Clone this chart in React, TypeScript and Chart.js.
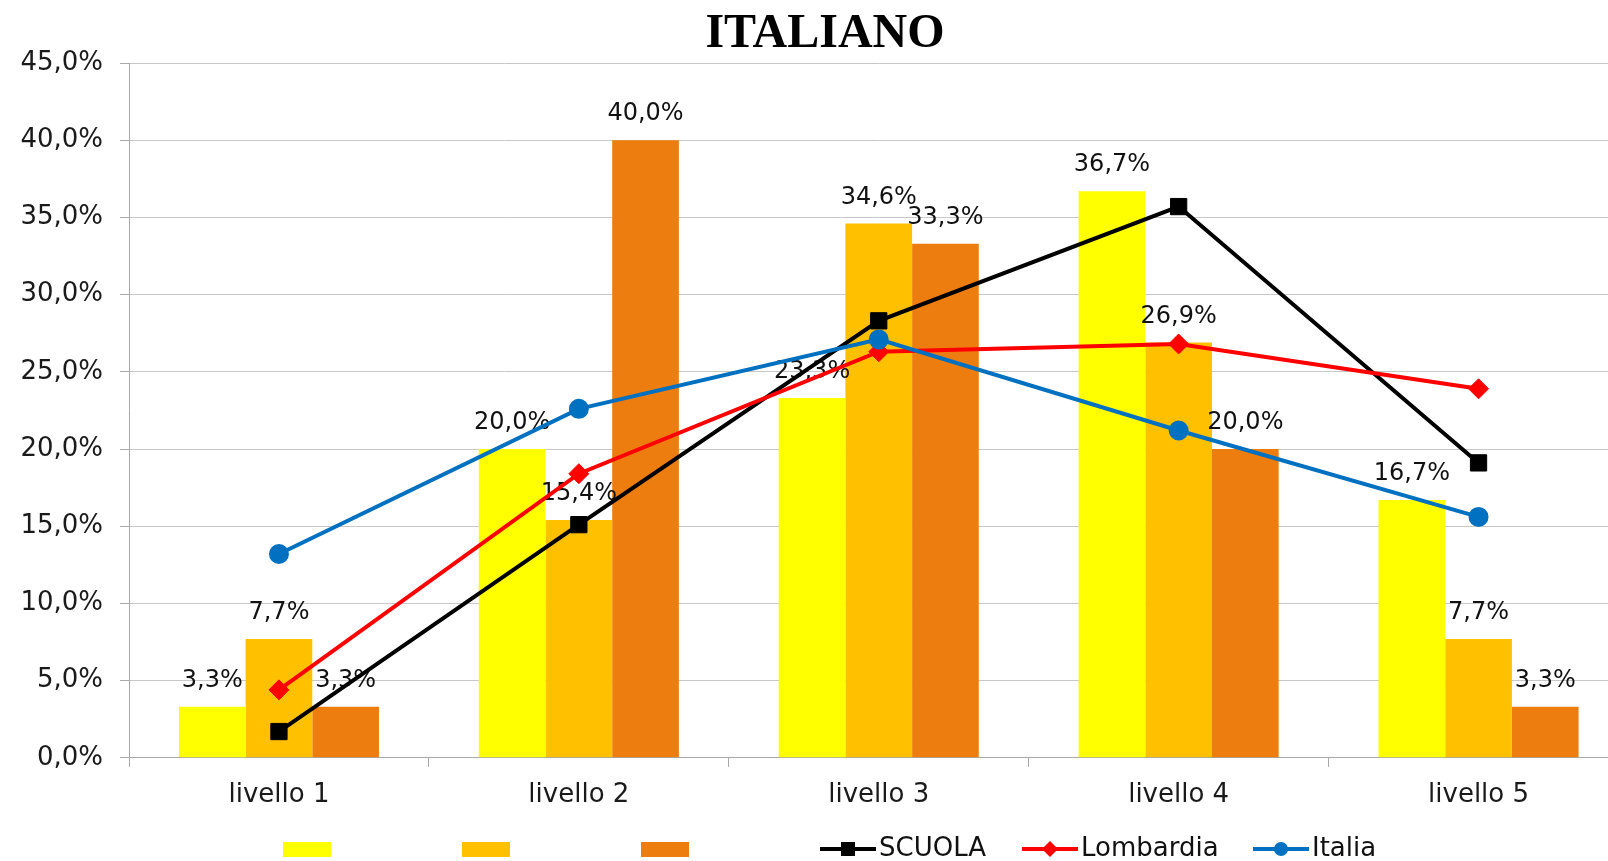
import React, { useEffect, useRef } from 'react';
import { Chart, registerables } from 'chart.js';

Chart.register(...registerables);

const chartTitle = 'ITALIANO';
const categories = ['livello 1', 'livello 2', 'livello 3', 'livello 4', 'livello 5'];
const barSeriesA = [3.3, 20.0, 23.3, 36.7, 16.7];
const barSeriesB = [7.7, 15.4, 34.6, 26.9, 7.7];
const barSeriesC = [3.3, 40.0, 33.3, 20.0, 3.3];
const scuola = [1.7, 15.1, 28.3, 35.7, 19.1];
const lombardia = [4.4, 18.4, 26.3, 26.8, 23.9];
const italia = [13.2, 22.6, 27.1, 21.2, 15.6];
const lineNames = ['SCUOLA', 'Lombardia', 'Italia'];
const yMin = 0;
const yMax = 45;
const yStep = 5;

const FONT = '"DejaVu Sans", Verdana, sans-serif';
const fmt = (v: number) => v.toFixed(1).replace('.', ',') + '%';

const barLabelPlugin = {
  id: 'barLabels',
  afterDatasetDraw(chart: any, args: any) {
    if (args.index !== 0) return;
    const ctx = chart.ctx;
    ctx.save();
    ctx.font = `24px ${FONT}`;
    ctx.fillStyle = '#111';
    ctx.textAlign = 'center';
    ctx.textBaseline = 'middle';
    [0, 1, 2].forEach((di) => {
      const meta = chart.getDatasetMeta(di);
      meta.data.forEach((el: any, j: number) => {
        const v = chart.data.datasets[di].data[j] as number;
        ctx.fillText(fmt(v), el.x, el.y - 26);
      });
    });
    ctx.restore();
  },
};

const legendPlugin = {
  id: 'customLegend',
  afterDraw(chart: any) {
    const ctx = chart.ctx;
    const ds = chart.data.datasets;
    const yc = 849;
    ctx.save();
    const boxX = [283, 462, 641];
    [0, 1, 2].forEach((i) => {
      ctx.fillStyle = ds[i].backgroundColor;
      ctx.fillRect(boxX[i], 842, 48, 15);
    });
    const lineX = [820, 1022, 1253];
    [3, 4, 5].forEach((di, k) => {
      const d = ds[di];
      const x0 = lineX[k];
      ctx.strokeStyle = d.borderColor;
      ctx.lineWidth = 4;
      ctx.beginPath();
      ctx.moveTo(x0, yc);
      ctx.lineTo(x0 + 56, yc);
      ctx.stroke();
      const cx = x0 + 28;
      ctx.fillStyle = d.borderColor;
      ctx.beginPath();
      if (d.pointStyle === 'rect') {
        ctx.rect(cx - 7, yc - 7, 14, 14);
      } else if (d.pointStyle === 'rectRot') {
        ctx.moveTo(cx - 8, yc);
        ctx.lineTo(cx, yc - 8);
        ctx.lineTo(cx + 8, yc);
        ctx.lineTo(cx, yc + 8);
        ctx.closePath();
      } else {
        ctx.arc(cx, yc, 7, 0, Math.PI * 2);
      }
      ctx.fill();
      ctx.fillStyle = '#111';
      ctx.font = `26px ${FONT}`;
      ctx.textAlign = 'left';
      ctx.textBaseline = 'middle';
      ctx.fillText(d.label, x0 + 59, yc);
    });
    ctx.restore();
  },
};

export default function App() {
  const ref = useRef<HTMLCanvasElement>(null);
  useEffect(() => {
    const chart = new Chart(ref.current as HTMLCanvasElement, {
      type: 'bar',
      data: {
        labels: categories,
        datasets: [
          { type: 'bar', label: '', data: barSeriesA, backgroundColor: '#FFFF00', order: 10, categoryPercentage: 0.667, barPercentage: 1.0 } as any,
          { type: 'bar', label: '', data: barSeriesB, backgroundColor: '#FFC000', order: 10, categoryPercentage: 0.667, barPercentage: 1.0 } as any,
          { type: 'bar', label: '', data: barSeriesC, backgroundColor: '#ED7D0E', order: 10, categoryPercentage: 0.667, barPercentage: 1.0 } as any,
          { type: 'line', label: lineNames[0], data: scuola, borderColor: '#000000', backgroundColor: '#000000', borderWidth: 4, pointStyle: 'rect', pointRadius: 11.5, pointBackgroundColor: '#000000', pointBorderColor: '#000000', pointBorderWidth: 1, order: 3, tension: 0 } as any,
          { type: 'line', label: lineNames[1], data: lombardia, borderColor: '#FF0000', backgroundColor: '#FF0000', borderWidth: 4, pointStyle: 'rectRot', pointRadius: 10, pointBackgroundColor: '#FF0000', pointBorderColor: '#FF0000', pointBorderWidth: 1, order: 2, tension: 0 } as any,
          { type: 'line', label: lineNames[2], data: italia, borderColor: '#0070C0', backgroundColor: '#0070C0', borderWidth: 4, pointStyle: 'circle', pointRadius: 9, pointBackgroundColor: '#0070C0', pointBorderColor: '#0070C0', pointBorderWidth: 2, order: 1, tension: 0 } as any,
        ],
      },
      options: {
        responsive: false,
        maintainAspectRatio: false,
        animation: false,
        layout: { padding: { left: 9, right: 0, top: 0, bottom: 37 } },
        plugins: {
          legend: { display: false },
          tooltip: { enabled: false },
          title: {
            display: true,
            text: chartTitle,
            color: '#000',
            font: { family: '"Liberation Serif", "Times New Roman", serif', size: 48, weight: 'bold', lineHeight: 1 },
            padding: { top: 11, bottom: 4 },
          },
        },
        scales: {
          x: {
            grid: { display: true, drawOnChartArea: false, drawTicks: true, tickLength: 9, color: '#a8a8a8', offset: true },
            border: { color: '#a8a8a8', width: 1 },
            ticks: { font: { family: FONT, size: 26 }, color: '#1a1a1a', padding: 13, maxRotation: 0 },
          },
          y: {
            min: yMin,
            max: yMax,
            afterFit: (scale: any) => { scale.width = 120; },
            grid: { color: '#c8c8c8', tickLength: 9, tickColor: '#a8a8a8' },
            border: { color: '#a8a8a8', width: 1 },
            ticks: {
              stepSize: yStep,
              font: { family: FONT, size: 26 },
              color: '#1a1a1a',
              padding: 17,
              callback: (v: any) => fmt(Number(v)),
            },
          },
        },
      } as any,
      plugins: [barLabelPlugin, legendPlugin],
    });
    return () => chart.destroy();
  }, []);
  return (
    <div style={{ position: 'absolute', left: 0, top: 0, width: 1608, height: 861, overflow: 'hidden', background: '#fff' }}>
      <canvas ref={ref} width={1641} height={861} style={{ display: 'block' }} />
    </div>
  );
}
